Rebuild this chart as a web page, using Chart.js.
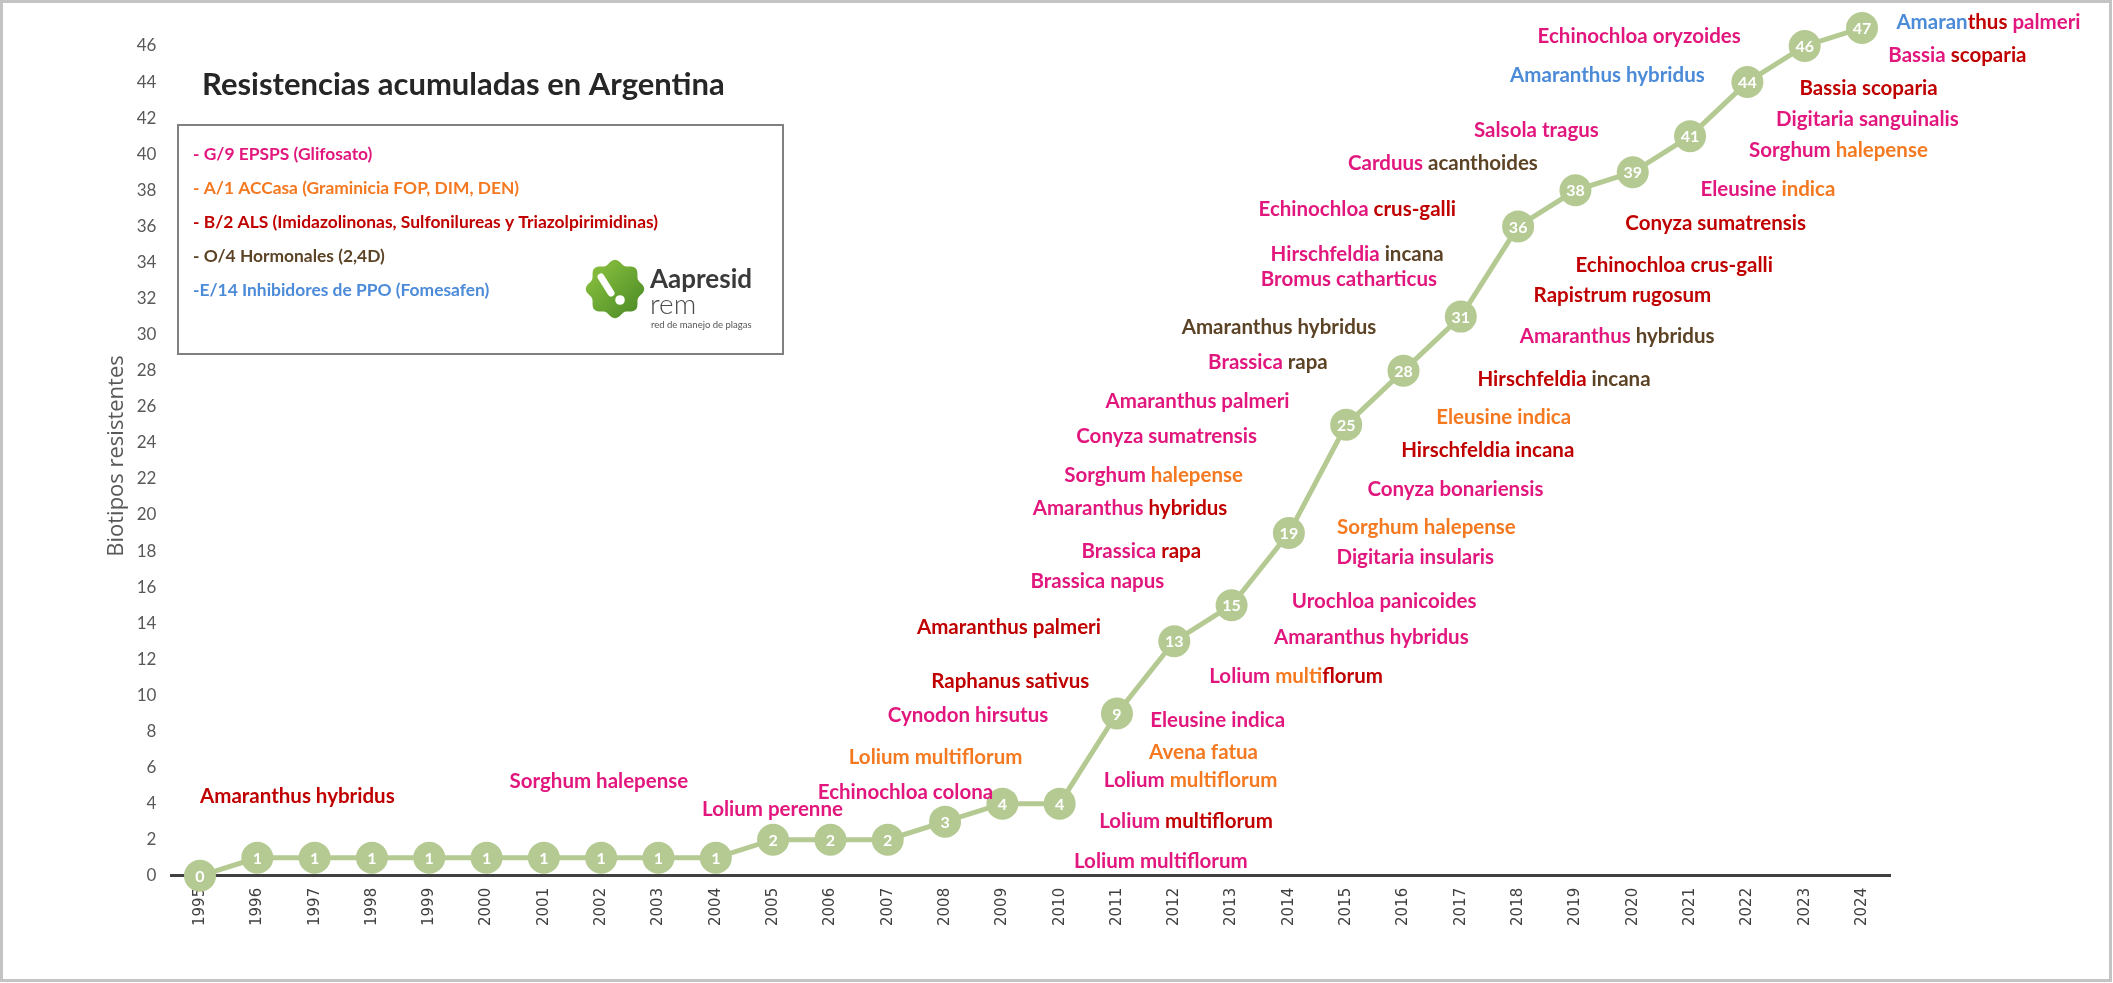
<!DOCTYPE html>
<html>
<head>
<meta charset="utf-8">
<title>Resistencias acumuladas en Argentina</title>
<script src="https://cdn.jsdelivr.net/npm/chart.js@4.4.1/dist/chart.umd.min.js"></script>
<style>
    html, body { margin: 0; padding: 0; background: #fff; overflow: hidden; }
    canvas { display: block; }
</style>
</head>
<body>
<canvas id="resistChart" width="2113" height="983"></canvas>
<script>
// Years and accumulated resistant biotypes
const years = ['1995', '1996', '1997', '1998', '1999', '2000', '2001', '2002', '2003', '2004',
    '2005', '2006', '2007', '2008', '2009', '2010', '2011', '2012', '2013', '2014',
    '2015', '2016', '2017', '2018', '2019', '2020', '2021', '2022', '2023', '2024'];
const biotypes = [0, 1, 1, 1, 1, 1, 1, 1, 1, 1, 2, 2, 2, 3, 4, 4, 9, 13, 15, 19,
    25, 28, 31, 36, 38, 39, 41, 44, 46, 47];
const yTickValues = [0, 2, 4, 6, 8, 10, 12, 14, 16, 18, 20, 22, 24, 26, 28, 30, 32, 34, 36, 38, 40, 42, 44, 46];

// Herbicide groups (legend)
const groupCodes = ['G', 'A', 'B', 'O', 'E'];
const groupNames = [
    '- G/9 EPSPS (Glifosato)',
    '- A/1 ACCasa (Graminicia FOP, DIM, DEN)',
    '- B/2 ALS (Imidazolinonas, Sulfonilureas y Triazolpirimidinas)',
    '- O/4 Hormonales (2,4D)',
    '-E/14 Inhibidores de PPO (Fomesafen)'
];

// Species names, split by the group each part belongs to
const speciesLabels = [
    [['Amaranthus hybridus', 'B']],
    [['Sorghum halepense', 'G']],
    [['Lolium perenne', 'G']],
    [['Echinochloa colona', 'G']],
    [['Lolium multiflorum', 'A']],
    [['Cynodon hirsutus', 'G']],
    [['Raphanus sativus', 'B']],
    [['Amaranthus palmeri', 'B']],
    [['Lolium multiflorum', 'G']],
    [['Lolium ', 'G'], ['multiflorum', 'B']],
    [['Lolium ', 'G'], ['multiflorum', 'A']],
    [['Avena fatua', 'A']],
    [['Eleusine indica', 'G']],
    [['Lolium ', 'G'], ['multi', 'A'], ['florum', 'B']],
    [['Amaranthus hybridus', 'G']],
    [['Urochloa panicoides', 'G']],
    [['Brassica napus', 'G']],
    [['Brassica ', 'G'], ['rapa', 'B']],
    [['Amaranthus ', 'G'], ['hybridus', 'B']],
    [['Sorghum ', 'G'], ['halepense', 'A']],
    [['Conyza sumatrensis', 'G']],
    [['Amaranthus palmeri', 'G']],
    [['Brassica ', 'G'], ['rapa', 'O']],
    [['Amaranthus hybridus', 'O']],
    [['Digitaria insularis', 'G']],
    [['Sorghum halepense', 'A']],
    [['Conyza bonariensis', 'G']],
    [['Hirschfeldia incana', 'B']],
    [['Eleusine indica', 'A']],
    [['Hirschfeldia ', 'B'], ['incana', 'O']],
    [['Amaranthus ', 'G'], ['hybridus', 'O']],
    [['Rapistrum rugosum', 'B']],
    [['Echinochloa crus-galli', 'B']],
    [['Conyza sumatrensis', 'B']],
    [['Eleusine ', 'G'], ['indica', 'A']],
    [['Sorghum ', 'G'], ['halepense', 'A']],
    [['Digitaria sanguinalis', 'G']],
    [['Bassia scoparia', 'B']],
    [['Bassia ', 'G'], ['scoparia', 'B']],
    [['Amaran', 'E'], ['thus ', 'B'], ['palmeri', 'G']],
    [['Echinochloa ', 'G'], ['crus-galli', 'B']],
    [['Hirschfeldia ', 'G'], ['incana', 'O']],
    [['Bromus catharticus', 'G']],
    [['Carduus ', 'G'], ['acanthoides', 'O']],
    [['Salsola tragus', 'G']],
    [['Amaranthus hybridus', 'E']],
    [['Echinochloa oryzoides', 'G']]
];

// Where each species label sits, in chart units [year, biotipos]
const labelSpots = [
    [1995.00, 4.40], [2000.40, 5.25], [2003.76, 3.70], [2005.78, 4.65], [2006.32, 6.59],
    [2007.00, 8.91], [2007.76, 10.80], [2007.51, 13.79], [2010.25, 0.82], [2010.69, 3.04],
    [2010.77, 5.31], [2011.56, 6.86], [2011.58, 8.64], [2012.61, 11.08], [2013.74, 13.24],
    [2014.05, 15.21], [2009.49, 16.30], [2010.38, 17.99], [2009.53, 20.38], [2010.08, 22.21],
    [2010.29, 24.36], [2010.80, 26.29], [2012.59, 28.46], [2012.13, 30.42], [2014.83, 17.63],
    [2014.84, 19.31], [2015.37, 21.41], [2015.96, 23.59], [2016.57, 25.40], [2017.29, 27.52],
    [2018.03, 29.92], [2018.27, 32.16], [2019.00, 33.82], [2019.87, 36.17], [2021.18, 38.07],
    [2022.03, 40.19], [2022.50, 41.93], [2022.91, 43.63], [2024.46, 45.48], [2024.60, 47.29],
    [2013.47, 36.95], [2013.68, 34.45], [2013.51, 33.07], [2015.03, 39.49], [2017.23, 41.30],
    [2017.86, 44.37], [2018.34, 46.51]
];

const groupColors = { G: '#E2177E', A: '#F47920', B: '#C00000', O: '#5C4326', E: '#4C8BD8' };
const lineGreen = '#B5CA92';

function drawSegments(ctx, segs, x, y) {
    let cx = x;
    segs.forEach(([txt, g]) => {
        ctx.fillStyle = groupColors[g];
        ctx.fillText(txt, cx, y);
        cx += ctx.measureText(txt).width;
    });
}

function drawLogo(ctx) {
    // green badge
    const cx = 615, cy = 289, R = 27;
    ctx.save();
    ctx.beginPath();
    for (let k = 0; k <= 360; k += 2) {
        const a = k * Math.PI / 180;
        const r = R + 2.2 * Math.cos(8 * a);
        const px = cx + r * Math.cos(a), py = cy + r * Math.sin(a);
        if (k === 0) ctx.moveTo(px, py); else ctx.lineTo(px, py);
    }
    ctx.closePath();
    const grad = ctx.createLinearGradient(cx - R, cy - R, cx + R, cy + R);
    grad.addColorStop(0, '#8DC440');
    grad.addColorStop(1, '#4A8A26');
    ctx.fillStyle = grad;
    ctx.fill();
    ctx.strokeStyle = '#fff';
    ctx.lineWidth = 7;
    ctx.lineCap = 'round';
    ctx.beginPath();
    ctx.moveTo(601, 277);
    ctx.lineTo(611, 293);
    ctx.stroke();
    ctx.fillStyle = '#fff';
    ctx.beginPath();
    ctx.arc(620, 300, 4.8, 0, Math.PI * 2);
    ctx.fill();

    ctx.textAlign = 'left';
    ctx.textBaseline = 'alphabetic';
    ctx.fillStyle = '#3A3A3A';
    ctx.font = 'bold 26px Lato';
    ctx.fillText('Aapresid', 650, 288);
    ctx.fillStyle = '#4A4A4A';
    ctx.font = '300 28px Lato';
    ctx.fillText('rem', 650, 314);
    ctx.fillStyle = '#555';
    ctx.font = '9.5px Lato';
    ctx.fillText('red de manejo de plagas', 651, 328);
    ctx.restore();
}

const decorPlugin = {
    id: 'decor',
    afterDatasetsDraw(chart) {
        const ctx = chart.ctx;
        const meta = chart.getDatasetMeta(0);
        ctx.save();
        ctx.font = 'bold 16px Lato';
        ctx.fillStyle = '#fff';
        ctx.textAlign = 'center';
        ctx.textBaseline = 'middle';
        meta.data.forEach((pt, i) => {
            ctx.fillText(String(biotypes[i]), pt.x, pt.y + 1);
        });
        ctx.restore();
    },
    afterDraw(chart) {
        const ctx = chart.ctx;
        const xScale = chart.scales.x;
        const yScale = chart.scales.y;
        ctx.save();

        // outer frame
        ctx.strokeStyle = '#C4C4C4';
        ctx.lineWidth = 3;
        ctx.strokeRect(1.5, 1.5, 2109, 979);

        // title
        ctx.fillStyle = '#262626';
        ctx.font = 'bold 31px Lato';
        ctx.textAlign = 'left';
        ctx.textBaseline = 'middle';
        ctx.fillText('Resistencias acumuladas en Argentina', 202, 85);

        // y axis title
        ctx.save();
        ctx.translate(117, 456);
        ctx.rotate(-Math.PI / 2);
        ctx.textAlign = 'center';
        ctx.fillStyle = '#595959';
        ctx.font = '22px "Open Sans"';
        ctx.fillText('Biotipos resistentes', 0, 0);
        ctx.restore();

        // legend box
        ctx.strokeStyle = '#808080';
        ctx.lineWidth = 2;
        ctx.strokeRect(178, 125, 605, 229);
        ctx.font = 'bold 17.4px Lato';
        groupNames.forEach((name, i) => {
            ctx.fillStyle = groupColors[groupCodes[i]];
            ctx.fillText(name, 193, 154 + i * 34.1);
        });
        drawLogo(ctx);

        // species annotations
        ctx.font = 'bold 20.5px Lato';
        ctx.textAlign = 'left';
        ctx.textBaseline = 'middle';
        speciesLabels.forEach((segs, i) => {
            const [yr, val] = labelSpots[i];
            const px = xScale.getPixelForValue(yr - Number(years[0]));
            const py = yScale.getPixelForValue(val);
            drawSegments(ctx, segs, px, py);
        });
        ctx.restore();
    }
};

function noPadding(scale) {
    scale.paddingTop = 0;
    scale.paddingBottom = 0;
    scale.paddingLeft = 0;
    scale.paddingRight = 0;
}

const ctx = document.getElementById('resistChart').getContext('2d');
new Chart(ctx, {
    type: 'line',
    data: {
        labels: years,
        datasets: [{
            label: 'Biotipos resistentes',
            data: biotypes,
            borderColor: lineGreen,
            backgroundColor: lineGreen,
            borderWidth: 5,
            pointRadius: 16,
            pointHoverRadius: 16,
            pointBorderWidth: 0,
            pointBackgroundColor: lineGreen,
            tension: 0,
            clip: false
        }]
    },
    options: {
        responsive: false,
        devicePixelRatio: 1,
        animation: false,
        events: [],
        layout: {
            autoPadding: false,
            padding: { left: 0, right: 222.35, top: 9.9, bottom: 0 }
        },
        plugins: {
            legend: { display: false },
            tooltip: { enabled: false }
        },
        scales: {
            x: {
                offset: true,
                grid: { display: false, drawTicks: false },
                border: { display: true, color: '#404040', width: 3 },
                ticks: {
                    autoSkip: false,
                    minRotation: 90,
                    maxRotation: 90,
                    padding: 12,
                    color: '#404040',
                    font: { family: 'DejaVu Sans', size: 15 }
                },
                afterFit(scale) {
                    scale.height = 107.2;
                    noPadding(scale);
                }
            },
            y: {
                min: 0,
                max: 48,
                grid: { display: false, drawTicks: false },
                border: { display: false },
                ticks: {
                    stepSize: 2,
                    padding: 15,
                    color: '#595959',
                    font: { family: 'Lato', size: 17 },
                    callback: (v) => yTickValues.includes(v) ? String(v) : null
                },
                afterFit(scale) {
                    scale.width = 171.35;
                    noPadding(scale);
                }
            }
        }
    },
    plugins: [decorPlugin]
});
</script>
</body>
</html>
